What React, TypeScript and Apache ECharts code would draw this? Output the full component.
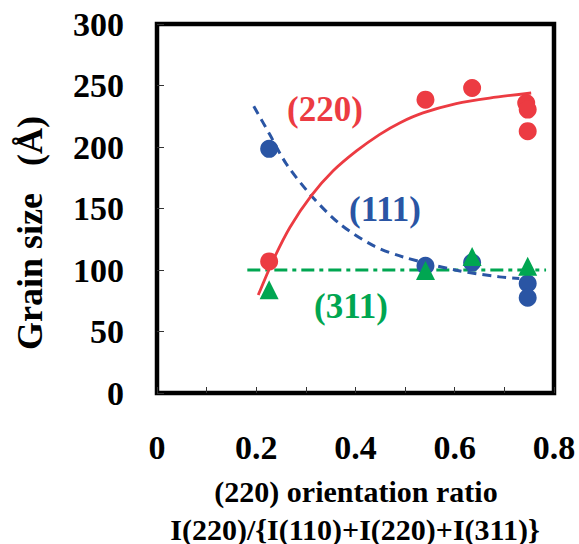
import React, { useEffect, useRef } from "react";
import * as echarts from "echarts";

const xTicks = [0, 0.2, 0.4, 0.6, 0.8];
const yTicks = [0, 50, 100, 150, 200, 250, 300];

// (220) measured points
const red220: [number, number][] = [
  [0.226, 107], [0.541, 238.5], [0.635, 248], [0.744, 235.8], [0.747, 230.4], [0.747, 212.9],
];
// (111) measured points
const blue111: [number, number][] = [
  [0.226, 198.5], [0.541, 103.5], [0.635, 106], [0.747, 89], [0.747, 77.5],
];
// (311) measured points
const green311: [number, number][] = [
  [0.226, 84], [0.541, 99.5], [0.635, 111], [0.747, 103],
];
// fitted trend lines
const redFit: [number, number][] = [
  [0.204, 79.6], [0.234, 107.9], [0.268, 134.8], [0.311, 160.4], [0.355, 180.6], [0.402, 196.8],
  [0.449, 210.3], [0.489, 219.6], [0.536, 227.7], [0.603, 235.3], [0.670, 239.8], [0.754, 243.9],
];
const blueFit: [number, number][] = [
  [0.195, 233.2], [0.227, 210.3], [0.261, 186], [0.311, 160.4], [0.368, 137.6], [0.435, 120],
  [0.496, 110.6], [0.603, 99.8], [0.690, 94.4], [0.730, 93],
];
const greenFit: [number, number][] = [
  [0.182, 100], [0.784, 100],
];

const RED = "#EC3B42";
const BLUE = "#2A55A4";
const GREEN = "#00A651";
const FONT = "'Liberation Serif', 'Times New Roman', serif";

function txt(text: string, x: number, y: number, size: number, color: string, rotation = 0) {
  return {
    type: "text",
    x,
    y,
    rotation,
    z: 100,
    style: {
      text,
      fill: color,
      fontSize: size,
      fontWeight: "bold",
      fontFamily: FONT,
      align: "center",
      verticalAlign: "middle",
      textAlign: "center",
      textVerticalAlign: "middle",
    },
  };
}

export default function App() {
  const ref = useRef<HTMLDivElement>(null);
  useEffect(() => {
    if (!ref.current) return;
    const chart = echarts.init(ref.current, null, { renderer: "svg" });
    chart.setOption({
      animation: false,
      backgroundColor: "#fff",
      grid: {
        left: 157,
        right: 25,
        top: 24,
        bottom: 151,
        show: true,
        borderColor: "#000",
        borderWidth: 4.5,
        backgroundColor: "transparent",
      },
      xAxis: {
        type: "value",
        min: xTicks[0],
        max: xTicks[xTicks.length - 1],
        interval: 0.2,
        axisLine: { show: false },
        splitLine: { show: false },
        axisTick: { show: true, inside: true, length: 6, lineStyle: { color: "#333", width: 1 } },
        minorTick: { show: true, splitNumber: 2, length: 6, lineStyle: { color: "#333", width: 1 } },
        axisLabel: {
          margin: 37,
          fontSize: 34,
          fontWeight: "bold",
          fontFamily: FONT,
          color: "#000",
          formatter: (v: number) => {
            const t = xTicks.find((k) => Math.abs(k - v) < 1e-6);
            return t === undefined ? "" : String(t);
          },
        },
      },
      yAxis: {
        type: "value",
        min: yTicks[0],
        max: yTicks[yTicks.length - 1],
        interval: 50,
        axisLine: { show: false },
        splitLine: { show: false },
        axisTick: { show: true, inside: true, length: 7, lineStyle: { color: "#333", width: 1 } },
        axisLabel: {
          margin: 33,
          fontSize: 34,
          fontWeight: "bold",
          fontFamily: FONT,
          color: "#000",
        },
      },
      graphic: [
        txt("Grain size   (Å)", 30, 233, 36, "#000", Math.PI / 2),
        txt("(220) orientation ratio", 356, 491, 30, "#000"),
        txt("I(220)/{I(110)+I(220)+I(311)}", 355, 529, 30, "#000"),
        txt("(220)", 325, 109, 35, RED),
        txt("(111)", 385, 209, 35, BLUE),
        txt("(311)", 351, 306, 35, GREEN),
      ],
      series: [
        {
          type: "line",
          data: greenFit,
          showSymbol: false,
          symbol: "none",
          lineStyle: { color: GREEN, width: 3, type: [13, 5, 4, 5] },
          z: 2,
        },
        {
          type: "line",
          data: blueFit,
          smooth: 0.3,
          showSymbol: false,
          symbol: "none",
          lineStyle: { color: BLUE, width: 3, type: [9, 6] },
          z: 2,
        },
        {
          type: "line",
          data: redFit,
          smooth: 0.3,
          showSymbol: false,
          symbol: "none",
          lineStyle: { color: RED, width: 2.8 },
          z: 3,
        },
        {
          type: "scatter",
          data: blue111,
          symbol: "circle",
          symbolSize: 18,
          itemStyle: { color: BLUE, opacity: 1 },
          z: 4,
        },
        {
          type: "scatter",
          data: red220,
          symbol: "circle",
          symbolSize: 18,
          itemStyle: { color: RED, opacity: 1 },
          z: 4,
        },
        {
          type: "scatter",
          data: green311,
          symbol: "triangle",
          symbolSize: 19,
          itemStyle: { color: GREEN, opacity: 1 },
          z: 5,
        },
      ],
    });
    return () => chart.dispose();
  }, []);
  return (
    <div
      ref={ref}
      style={{ position: "fixed", left: 0, top: 0, width: 579, height: 544 }}
    />
  );
}
